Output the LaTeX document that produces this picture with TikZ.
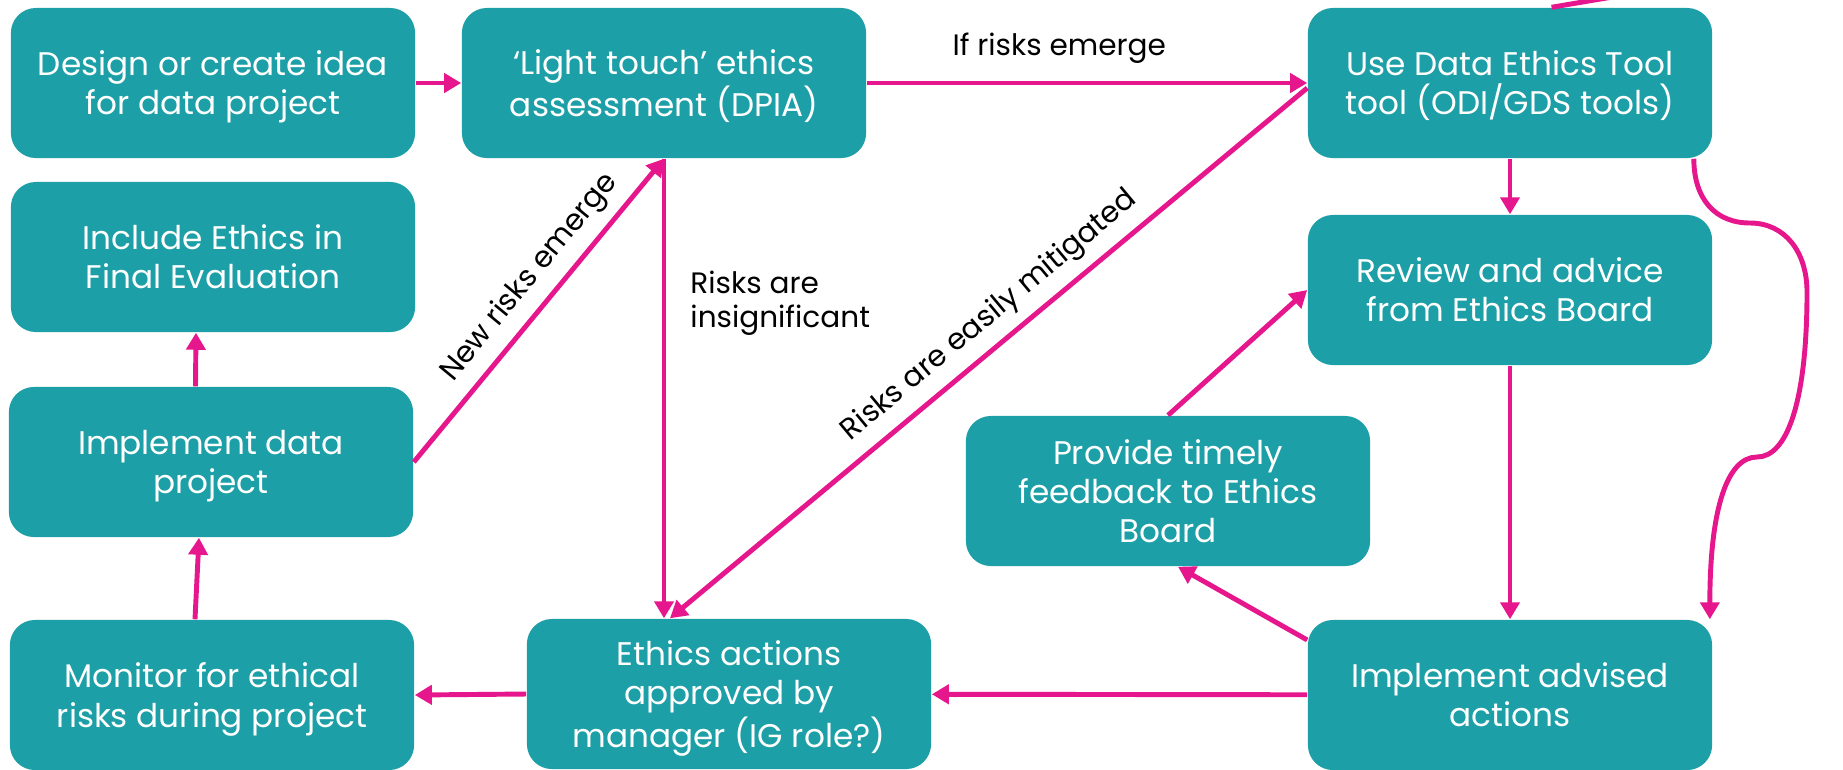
\documentclass[tikz,border=0pt]{standalone}
\usepackage{fontspec}
\setmainfont{Poppins}
\usetikzlibrary{arrows.meta}
\definecolor{boxteal}{RGB}{28,159,166}
\definecolor{linkpink}{RGB}{230,22,140}

\begin{document}
\begin{tikzpicture}[x=0.01cm,y=-0.01cm]
\tikzstyle{every node}+=[inner sep=0pt]
\tikzstyle{stage}=[fill=boxteal, rounded corners=0.25cm, minimum width=4.04cm, minimum height=1.5cm, text=white, align=center, text depth=0pt, font=\fontsize{9.3}{11.1}\selectfont]
\tikzstyle{link}=[draw=linkpink, line width=1.4pt, >={Triangle[length=0.17cm,width=0.19cm]}]
\tikzstyle{note}=[font=\fontsize{8.4}{9.7}\selectfont, text=black]
\useasboundingbox (0,0) rectangle (1843,769);
\clip (0,0) rectangle (1843,769);
% left column
\node[stage] (design) at (213,83) {Design or create idea\\for data project};
\node[stage] (include) at (213,257) {Include Ethics in\\Final Evaluation};
\node[stage] (impl) at (211,462) {Implement data\\project};
\node[stage] (monitor) at (212,695) {Monitor for ethical\\risks during project};
% middle
\node[stage] (light) at (664,83) {`Light touch' ethics\\assessment (DPIA)};
\node[stage] (ethics) at (729,694) {Ethics actions\\approved by\\manager (IG role?)};
\node[stage] (provide) at (1168,491) {Provide timely\\feedback to Ethics\\Board};
% right column
\node[stage] (usedata) at (1510,83) {Use Data Ethics Tool\\tool (ODI/GDS tools)};
\node[stage] (review) at (1510,290) {Review and advice\\from Ethics Board};
\node[stage] (impladv) at (1510,695) {Implement advised\\actions};
% waypoints
\coordinate (brace1) at (1750,223);
\coordinate (brace2) at (1807,292);
\coordinate (brace3) at (1757,457);
\coordinate (offtop) at (1660,-11);
% connectors
\draw[link,->] (design) -- (light);
\draw[link,->] (light) -- node[note, pos=0.437, yshift=0.345cm] {If risks emerge} (usedata);
\draw[link,->] (usedata) -- (review);
\draw[link,->] (review) -- (impladv);
\draw[link,->] (impladv) -- (ethics);
\draw[link,->] ([yshift=0.55cm]impladv.west) -- ([xshift=0.1cm]provide.south);
\draw[link,->] (provide.north) -- (review.west);
\draw[link,->] (light.south) -- node[note, pos=0.315, right=0.24cm, align=left] {Risks are\\insignificant} (light.south |- ethics.north);
\draw[link,<-] ([xshift=-0.59cm]ethics.north) -- node[note, pos=0.53, sloped, above=0.1cm] {Risks are easily mitigated} ([yshift=-0.05cm]usedata.west);
\draw[link,->] (impl.east) -- node[note, pos=0.55, sloped, above=0.1cm] {New risks emerge} (light.south);
\draw[link,->] ([xshift=-0.155cm]impl.north) -- ([xshift=-0.17cm]include.south);
\draw[link,->] ([xshift=-0.17cm]monitor.north) -- ([xshift=-0.12cm]impl.south);
\draw[link,->] (ethics.west) -- (monitor.east);
\draw[link,->] ([xshift=-0.19cm]usedata.south east) .. controls +(0,40) and +(-35,0) .. (brace1)
  .. controls +(35,0) and +(0,-40) .. (brace2)
  .. controls +(0,110) and +(30,0) .. (brace3)
  .. controls +(-30,0) and +(0,-110) .. ([xshift=-0.03cm]impladv.north east);
\draw[link] ([xshift=0.415cm]usedata.north) -- (offtop);
\end{tikzpicture}
\end{document}
